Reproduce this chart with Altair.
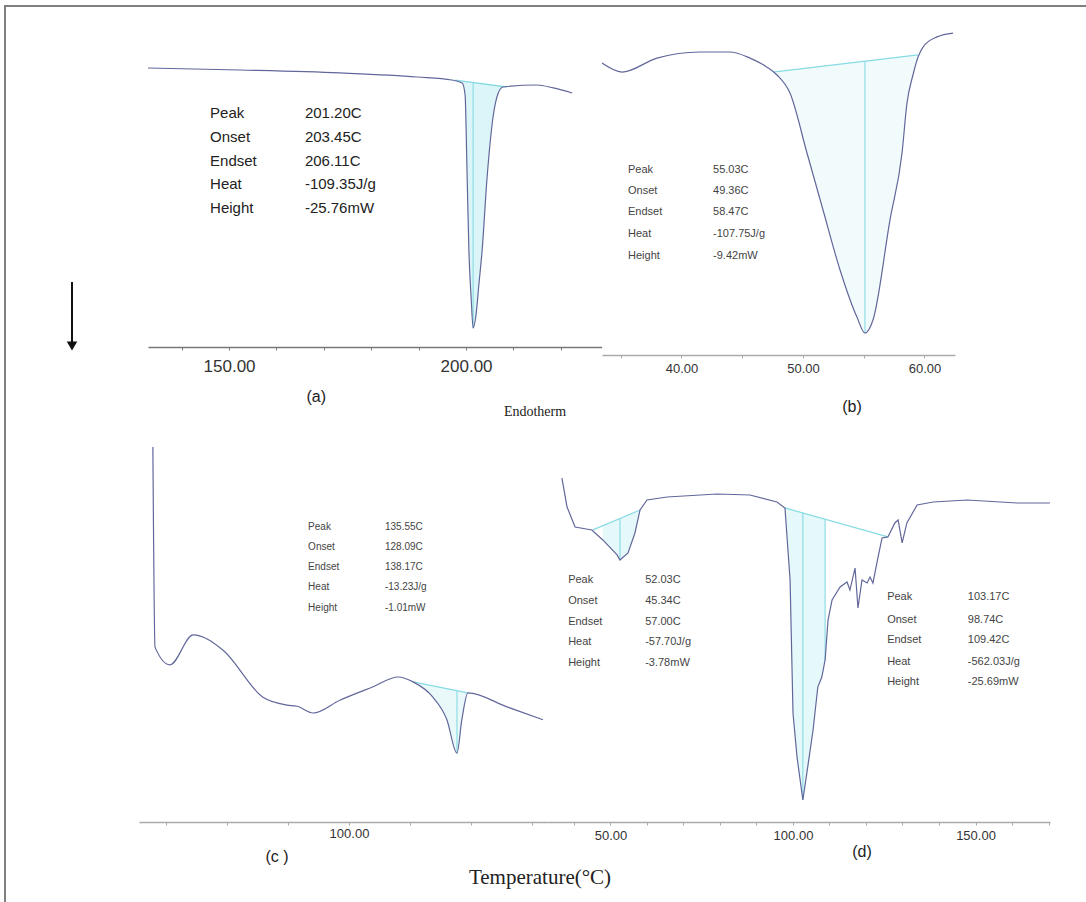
import altair as alt
import pandas as pd
import numpy as np

W, H = 1086, 902
LINE = "#62679a"
CYAN = "#86dbe3"
FILL = "#d3f3f6"
STAT_LABELS = ["Peak", "Onset", "Endset", "Heat", "Height"]

# ---------------- data ----------------
# (a)
a_temp = [132.9, 152.3, 173.4, 189.7, 197.0, 199.2, 199.8, 200.2, 200.6, 201.1, 201.5,
          202.1, 202.7, 203.4, 204.4, 205.7, 206.8, 207.8, 215.0, 218.4, 222.4]
a_flow = [0.0, -0.21, -0.52, -0.94, -1.26, -1.57, -2.83, -10.68, -19.06, -24.29, -27.23,
          -25.86, -22.72, -19.06, -11.73, -5.13, -2.62, -1.99, -1.78, -2.09, -2.62]
a_base_t = [197.7, 208.6]
a_base_f = [-1.26, -1.99]
a_peak = 201.5
a_values = ["201.20C", "203.45C", "206.11C", "-109.35J/g", "-25.76mW"]
a_ticks = [140, 150, 160, 170, 180, 190, 200, 210, 220]

# (b)
b_temp = [33.46, 35.10, 37.98, 41.52, 43.99, 45.64, 47.04, 47.86, 48.93, 50.33, 51.65, 53.05,
          54.44, 55.10, 55.76, 57.16, 58.15, 58.56, 59.05, 59.47, 59.88, 61.03, 62.35]
b_flow = [-0.38, -0.69, -0.21, 0.0, 0.0, -0.21, -0.52, -0.79, -1.41, -3.47, -5.43, -7.49,
          -9.11, -9.66, -9.21, -5.77, -3.47, -1.75, -0.79, -0.17, 0.17, 0.52, 0.65]
b_base_t = [47.53, 59.47]
b_base_f = [-0.69, -0.10]
b_peak = 55.10
b_values = ["55.03C", "49.36C", "58.47C", "-107.75J/g", "-9.42mW"]
b_ticks = [35, 40, 45, 50, 55, 60]

# (c)
c_temp = [35.7, 36.4, 41.3, 48.9, 58.7, 71.8, 79.7, 83.0, 88.2, 97.0, 107.9, 116.1,
          121.0, 127.5, 132.1, 135.4, 137.0, 139.0, 151.8, 163.6]
c_flow = [3.77, 0.49, 0.20, 0.69, 0.44, -0.33, -0.46, -0.48, -0.59, -0.38, -0.16, 0.0,
          -0.08, -0.33, -0.70, -1.25, -0.70, -0.26, -0.49, -0.70]
c_base_t = [121.0, 139.0]
c_base_f = [-0.08, -0.26]
c_peak = 135.4
c_values = ["135.55C", "128.09C", "138.17C", "-13.23J/g", "-1.01mW"]
c_ticks = [40, 60, 80, 100, 120, 140, 160]

# (d)
d_temp = [36.7, 38.1, 40.3, 44.9, 47.9, 51.8, 52.6, 54.8, 56.7, 58.1, 60.0, 65.5, 79.2, 88.2,
          95.6, 97.8, 99.2, 100.0, 101.1, 102.7, 103.8, 105.5, 106.8, 107.9, 108.8, 109.6,
          110.7, 112.9, 114.8, 115.6, 117.0, 117.8, 118.9, 120.3, 121.1, 121.9, 123.3, 124.4,
          126.0, 127.9, 128.8, 129.9, 131.2, 134.0, 138.4, 147.7, 161.4, 170.4]
d_flow = [1.98, -0.63, -2.43, -2.70, -3.60, -4.95, -5.41, -4.77, -2.97, -0.90, 0.0, 0.27, 0.54,
          0.45, -0.18, -0.72, -7.21, -19.19, -23.15, -27.03, -24.59, -20.72, -16.85, -15.95,
          -14.41, -10.81, -9.01, -7.84, -7.39, -8.11, -6.13, -9.73, -7.21, -7.48, -6.94, -7.48,
          -5.14, -3.42, -3.33, -2.07, -1.80, -3.87, -2.07, -0.45, -0.18, 0.0, -0.27, -0.27]
d1_base_t = [45.2, 58.1]
d1_base_f = [-2.70, -0.90]
d1_peak = 52.6
d1_values = ["52.03C", "45.34C", "57.00C", "-57.70J/g", "-3.78mW"]
d2_base_t = [97.8, 126.0]
d2_base_f = [-0.72, -3.33]
d2_fill_end = 108.8
d2_peak = 102.7
d2_values = ["103.17C", "98.74C", "109.42C", "-562.03J/g", "-25.69mW"]
d_ticks = [40, 50, 60, 70, 80, 90, 100, 110, 120, 130, 140, 150, 160, 170]


def curve_df(t, f):
    return pd.DataFrame({"T": t, "mW": f})


def fill_df(t, f, bt, bf, t_end=None):
    t = np.asarray(t, float)
    f = np.asarray(f, float)
    hi = bt[1] if t_end is None else t_end
    m = (t >= bt[0]) & (t <= hi)
    base = np.interp(t[m], bt, bf)
    return pd.DataFrame({"T": t[m], "mW": f[m], "mW2": base})


def rule_df(t, f, bt, bf, positions):
    rows = []
    for p in positions:
        rows.append({"T": p, "mW": float(np.interp(p, t, f)), "mW2": float(np.interp(p, bt, bf))})
    return pd.DataFrame(rows)


def stats_df(label_t, value_t, ys, values):
    rows = []
    for lab, val, y in zip(STAT_LABELS, values, ys):
        rows.append({"T": label_t, "mW": y, "txt": lab})
        rows.append({"T": value_t, "mW": y, "txt": val})
    return pd.DataFrame(rows)


def panel(cfg):
    xs = alt.Scale(domain=cfg["xdom"], range=cfg["xrange"], nice=False, zero=False)
    ys = alt.Scale(domain=cfg["ydom"], range=cfg["yrange"], nice=False, zero=False)
    axis = alt.Axis(orient="bottom", offset=cfg["axis_y"] - H, values=cfg["ticks"],
                    labelExpr=cfg["label_expr"], grid=False, labelFlush=False,
                    labelOverlap=False, domainColor=cfg["axis_color"], tickColor=cfg["axis_color"],
                    domainWidth=1.3, tickSize=3, labelFontSize=cfg["axis_font"],
                    labelColor="#333333", labelFont="Liberation Sans",
                    labelPadding=cfg["label_pad"])
    X = alt.X("T:Q", scale=xs, axis=axis, title=None)
    Y = alt.Y("mW:Q", scale=ys, axis=None, title=None)
    layers = []
    for fd in cfg["fills"]:
        layers.append(alt.Chart(fd).mark_area(color=FILL, opacity=cfg["fill_op"], interpolate=cfg["interp"])
                      .encode(x=X, y=Y, y2="mW2:Q"))
    for bd in cfg["bases"]:
        layers.append(alt.Chart(bd).mark_line(color=CYAN, strokeWidth=1.3).encode(x=X, y=Y))
    for rd in cfg["rules"]:
        layers.append(alt.Chart(rd).mark_rule(color=CYAN, strokeWidth=1.1).encode(x=X, y=Y, y2="mW2:Q"))
    layers.append(alt.Chart(cfg["curve"]).mark_line(color=LINE, strokeWidth=1.2,
                                                    interpolate=cfg["interp"]).encode(x=X, y=Y))
    for sd in cfg["stats"]:
        layers.append(alt.Chart(sd).mark_text(align="left", baseline="middle", font="Liberation Sans",
                                              fontSize=cfg["stat_font"], color=cfg["stat_color"])
                      .encode(x=X, y=Y, text="txt:N"))
    layers.append(alt.Chart(cfg["tag"]).mark_text(align="center", baseline="middle",
                                                  font="Liberation Sans", fontSize=16, color="#222222")
                  .encode(x=X, y=Y, text="txt:N"))
    return alt.layer(*layers)


cfgs = []
# panel (a)
cfgs.append(dict(
    xdom=[132.9, 228.6], xrange=[148, 601.6], ydom=[-30, 1], yrange=[354.5, 58.45],
    axis_y=347, ticks=a_ticks, axis_font=17, label_pad=8, axis_color="#777777",
    label_expr="datum.value % 50 == 0 ? format(datum.value, '.2f') : ''",
    interp="monotone", curve=curve_df(a_temp, a_flow), fill_op=0.8,
    fills=[fill_df(a_temp, a_flow, a_base_t, a_base_f)],
    bases=[curve_df(a_base_t, a_base_f)],
    rules=[rule_df(a_temp, a_flow, a_base_t, a_base_f, [a_peak])],
    stats=[stats_df(146.0, 166.0, [-4.71, -7.23, -9.74, -12.15, -14.66], a_values)],
    stat_font=15, stat_color="#222222",
    tag=pd.DataFrame({"T": [168.4], "mW": [-34.45], "txt": ["(a)"]}),
))
# panel (b)
cfgs.append(dict(
    xdom=[33.46, 62.51], xrange=[602, 955], ydom=[-10, 1], yrange=[343, 22.9],
    axis_y=355, ticks=b_ticks, axis_font=13, label_pad=4, axis_color="#aaaaaa",
    label_expr="datum.value % 10 == 0 ? format(datum.value, '.2f') : ''",
    interp="monotone", curve=curve_df(b_temp, b_flow), fill_op=0.3,
    fills=[fill_df(b_temp, b_flow, b_base_t, b_base_f)],
    bases=[curve_df(b_base_t, b_base_f)],
    rules=[rule_df(b_temp, b_flow, b_base_t, b_base_f, [b_peak])],
    stats=[stats_df(35.6, 42.6, [-4.05, -4.78, -5.50, -6.25, -7.01], b_values)],
    stat_font=11, stat_color="#444444",
    tag=pd.DataFrame({"T": [54.03], "mW": [-12.2], "txt": ["(b)"]}),
))
# panel (c)
cfgs.append(dict(
    xdom=[31.15, 165.25], xrange=[139, 548], ydom=[-2, 4], yrange=[799, 433],
    axis_y=822, ticks=c_ticks, axis_font=13, label_pad=2, axis_color="#aaaaaa",
    label_expr="datum.value == 100 ? format(datum.value, '.2f') : ''",
    interp="monotone", curve=curve_df(c_temp, c_flow), fill_op=0.5,
    fills=[fill_df(c_temp, c_flow, c_base_t, c_base_f)],
    bases=[curve_df(c_base_t, c_base_f)],
    rules=[rule_df(c_temp, c_flow, c_base_t, c_base_f, [c_peak])],
    stats=[stats_df(86.6, 111.8, [2.46, 2.13, 1.80, 1.48, 1.13], c_values)],
    stat_font=10, stat_color="#444444",
    tag=pd.DataFrame({"T": [76.4], "mW": [-2.95], "txt": ["(c )"]}),
))
# panel (d)
cfgs.append(dict(
    xdom=[32.88, 170.41], xrange=[548, 1050], ydom=[-28, 3], yrange=[810.8, 466.7],
    axis_y=822, ticks=d_ticks, axis_font=13, label_pad=4, axis_color="#aaaaaa",
    label_expr="datum.value % 50 == 0 ? format(datum.value, '.2f') : ''",
    interp="linear", curve=curve_df(d_temp, d_flow), fill_op=0.6,
    fills=[fill_df(d_temp, d_flow, d1_base_t, d1_base_f),
           fill_df(d_temp, d_flow, d2_base_t, d2_base_f, d2_fill_end)],
    bases=[curve_df(d1_base_t, d1_base_f), curve_df(d2_base_t, d2_base_f)],
    rules=[rule_df(d_temp, d_flow, d1_base_t, d1_base_f, [d1_peak]),
           rule_df(d_temp, d_flow, d2_base_t, d2_base_f, [d2_peak, d2_fill_end])],
    stats=[stats_df(38.4, 59.5, [-7.21, -9.10, -10.99, -12.79, -14.68], d1_values),
           stats_df(125.8, 147.9, [-8.74, -10.81, -12.61, -14.59, -16.40], d2_values)],
    stat_font=11, stat_color="#444444",
    tag=pd.DataFrame({"T": [118.9], "mW": [-31.7], "txt": ["(d)"]}),
))

panels = [panel(c) for c in cfgs]

# figure-level decorations
one = pd.DataFrame({"k": [0]})
frame = alt.Chart(one).mark_rect(fill=None, stroke="#808080", strokeWidth=2).encode(
    x=alt.value(5), x2=alt.value(1100), y=alt.value(6), y2=alt.value(915))
arrow_line = alt.Chart(one).mark_rule(color="#111111", strokeWidth=2).encode(
    x=alt.value(72), y=alt.value(282), y2=alt.value(342))
arrow_head = alt.Chart(one).mark_point(shape="triangle-down", filled=True, color="#111111",
                                       size=110, opacity=1).encode(x=alt.value(72), y=alt.value(346))
endo = alt.Chart(one).mark_text(text="Endotherm", font="Liberation Serif", fontSize=14,
                                color="#222222").encode(x=alt.value(535), y=alt.value(412))
xtitle = alt.Chart(one).mark_text(text="Temperature(\u00b0C)", font="Liberation Serif", fontSize=21,
                                  color="#222222").encode(x=alt.value(540), y=alt.value(878))

chart = alt.layer(
    frame, *panels, arrow_line, arrow_head, endo, xtitle
).resolve_scale(x="independent", y="independent").properties(
    width=W, height=H, autosize=alt.AutoSizeParams(type="none"), padding=0, background="white"
).configure_view(stroke=None)

chart.save("out.html", embed_options={"renderer": "svg", "actions": False})
